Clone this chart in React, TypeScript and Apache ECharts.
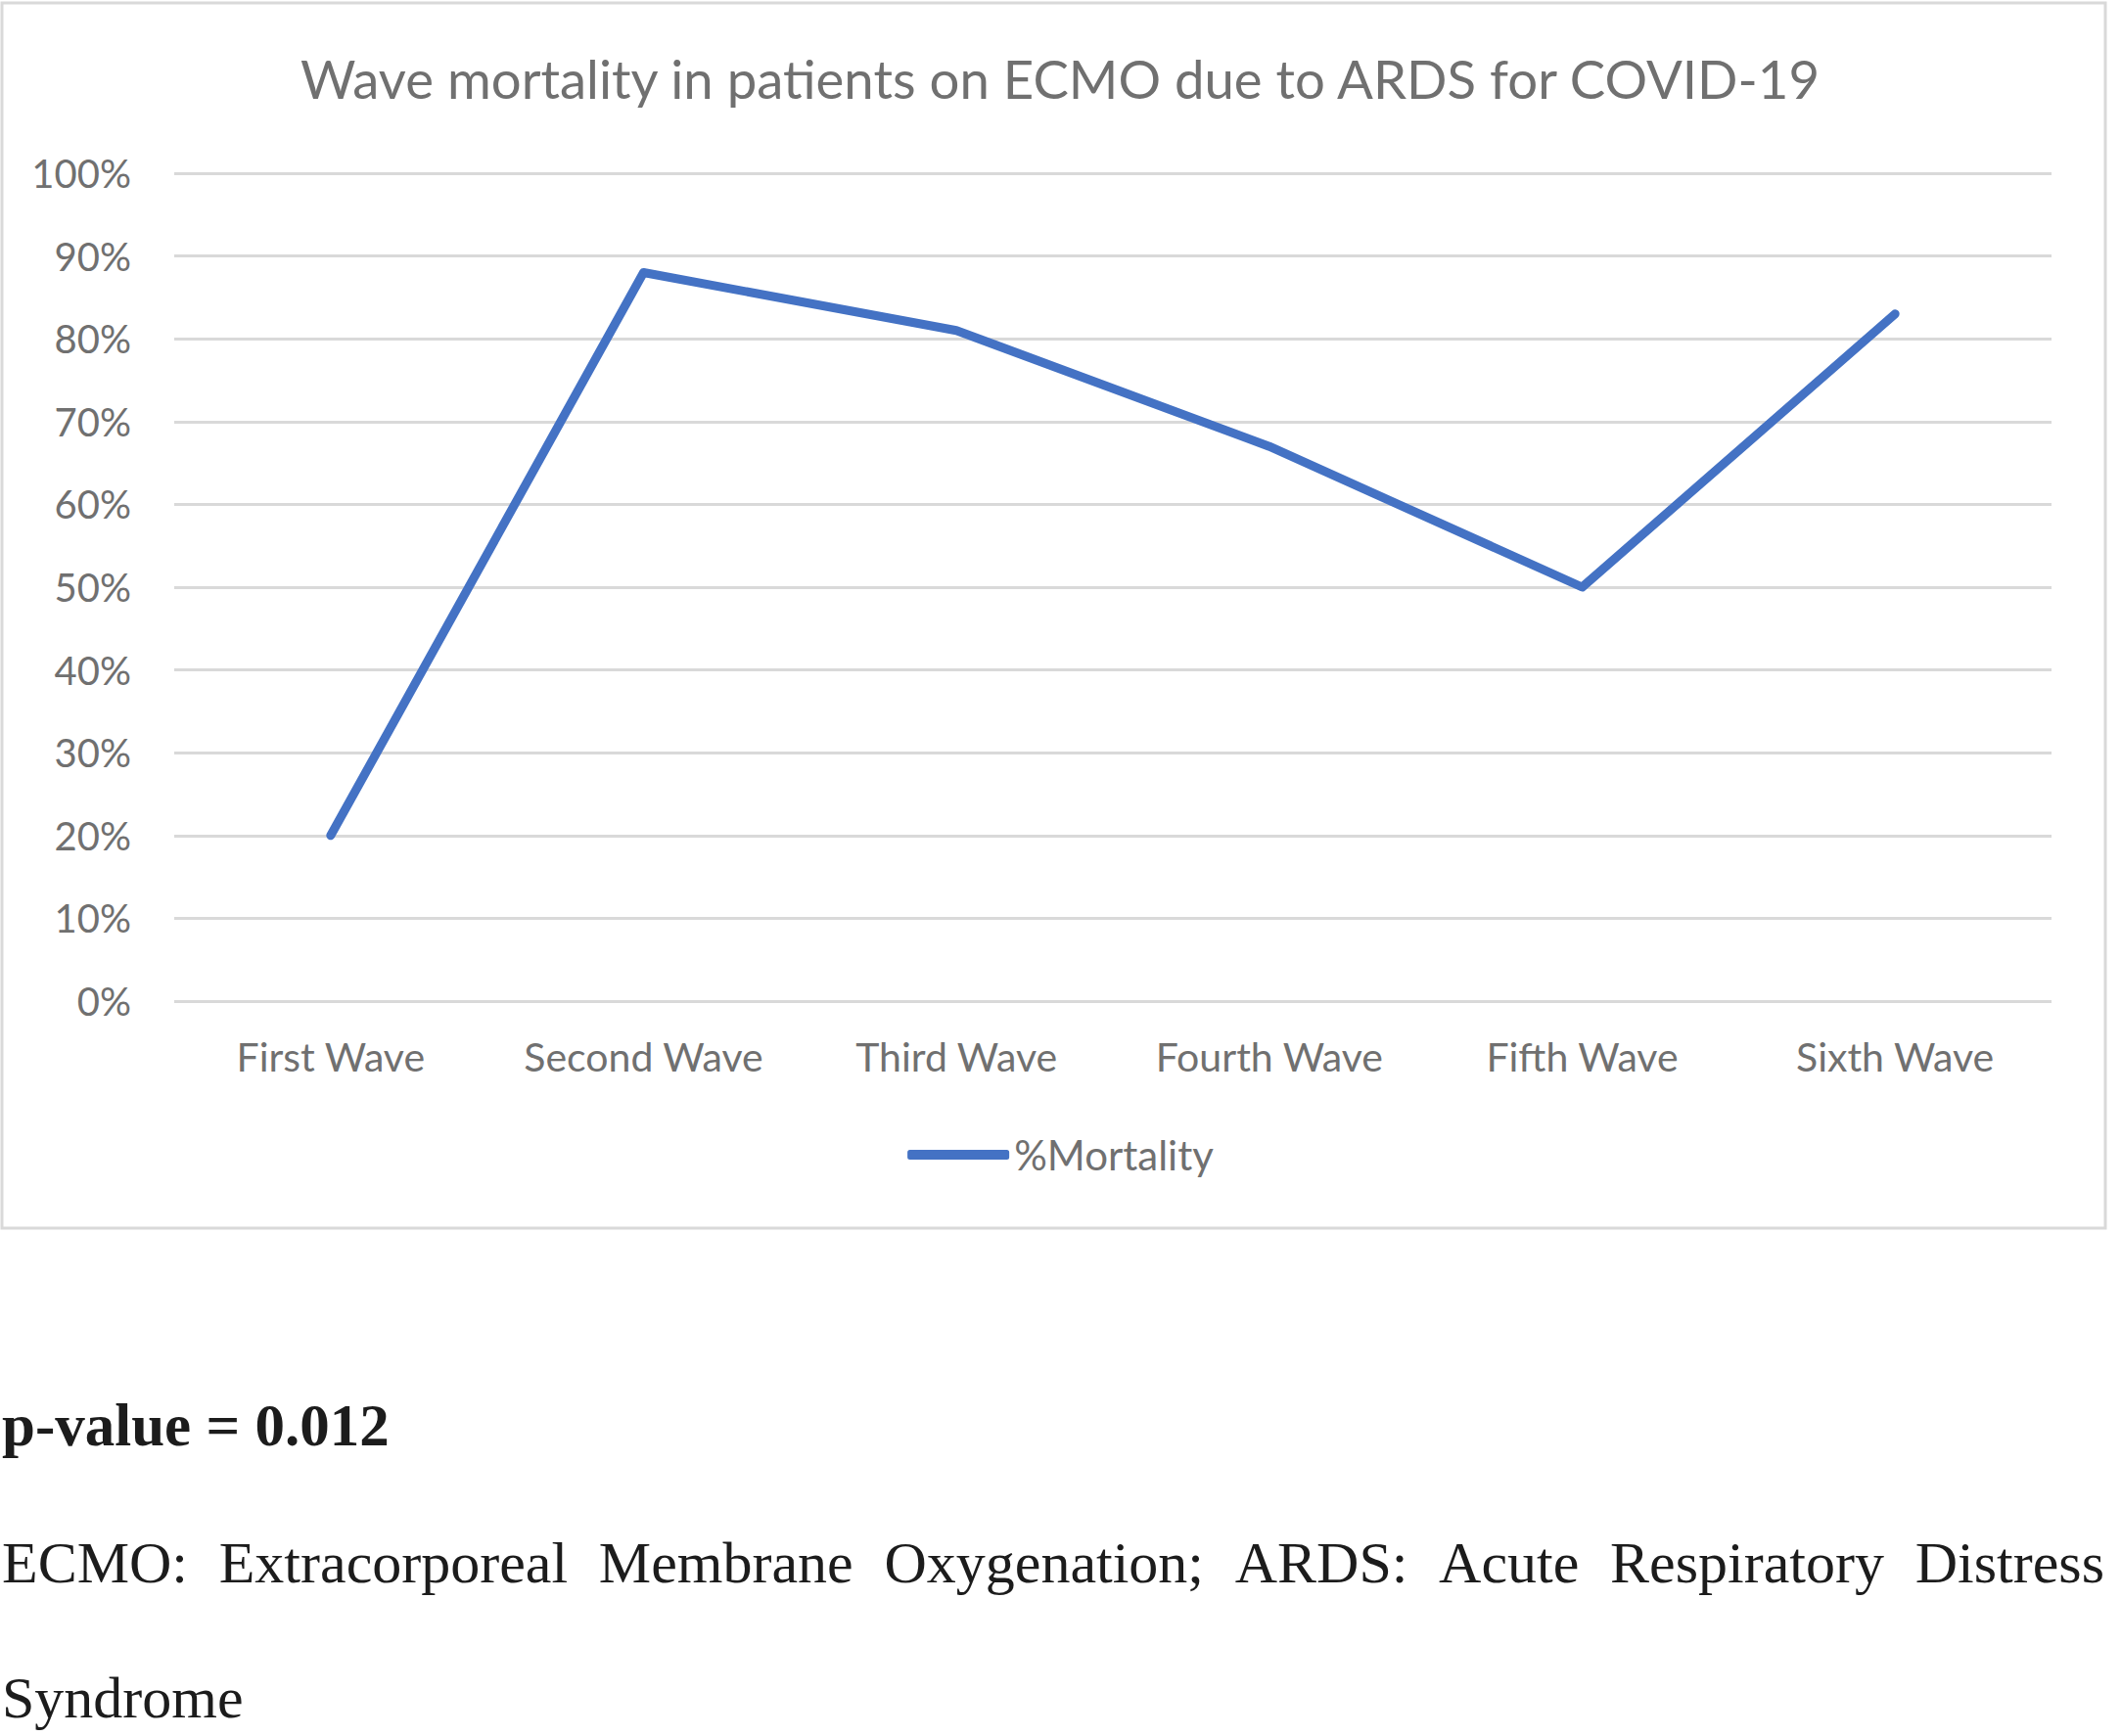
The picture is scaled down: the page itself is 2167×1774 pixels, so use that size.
import React, { useEffect, useRef } from "react";
import * as echarts from "echarts";

// ---- data ----
const categories: string[] = [
  "First Wave",
  "Second Wave",
  "Third Wave",
  "Fourth Wave",
  "Fifth Wave",
  "Sixth Wave",
];
const mortality: number[] = [0.2, 0.88, 0.81, 0.67, 0.5, 0.83];
const seriesName = "%Mortality";
const yMin = 0;
const yMax = 1;
const yInterval = 0.1;
const titleText = "Wave mortality in patients on ECMO due to ARDS for COVID-19";
const pValueText = "p-value = 0.012";
const footnoteWords: string[] = [
  "ECMO:",
  "Extracorporeal",
  "Membrane",
  "Oxygenation;",
  "ARDS:",
  "Acute",
  "Respiratory",
  "Distress",
];
const footnoteLastLine = "Syndrome";

const W = 2167;
const H = 1774;
const SANS = "Lato, 'Open Sans', sans-serif";
const SERIF = "'Liberation Serif', 'DejaVu Serif', serif";
const GRAY = "#707070";
const GRID = "#d9d9d9";
const BLUE = "#4472c4";
const INK = "#1c1c1c";

function measure(text: string, font: string): number {
  const c = document.createElement("canvas");
  const ctx = c.getContext("2d");
  if (!ctx) return text.length * 25;
  ctx.font = font;
  return ctx.measureText(text).width;
}

export default function App() {
  const ref = useRef<HTMLDivElement>(null);

  useEffect(() => {
    if (!ref.current) return;
    const chart = echarts.init(ref.current, undefined, { renderer: "svg" });

    // justified footnote line
    const fnSize = 60;
    const fnFont = `${fnSize}px 'Liberation Serif'`;
    const lineLeft = 2;
    const lineRight = 2150;
    const widths = footnoteWords.map((w) => measure(w, fnFont));
    const total = widths.reduce((a, b) => a + b, 0);
    const gap = (lineRight - lineLeft - total) / (footnoteWords.length - 1);
    let cx = lineLeft;
    const wordEls: any[] = footnoteWords.map((w, i) => {
      const el = {
        type: "text",
        x: cx,
        y: 1597,
        style: {
          text: w,
          fontSize: fnSize,
          fontFamily: SERIF,
          fill: INK,
          align: "left",
          verticalAlign: "middle",
        },
      };
      cx += widths[i] + gap;
      return el;
    });

    chart.setOption({
      animation: false,
      backgroundColor: "#ffffff",
      title: {
        text: titleText,
        left: 1078,
        textAlign: "center",
        top: 47,
        textStyle: {
          fontFamily: SANS,
          fontSize: 54.5,
          fontWeight: "normal",
          color: GRAY,
        },
      },
      legend: {
        data: [{ name: seriesName, icon: "roundRect" }],
        left: "center",
        top: 1159,
        padding: 0,
        itemWidth: 104,
        itemHeight: 10,
        textStyle: { fontFamily: SANS, fontSize: 42, color: GRAY },
      },
      grid: {
        left: 178,
        right: 71,
        top: 177,
        bottom: H - 1023,
        containLabel: false,
      },
      xAxis: {
        type: "category",
        data: categories,
        boundaryGap: true,
        axisLine: { show: false },
        axisTick: { show: false },
        axisLabel: {
          margin: 36,
          fontFamily: SANS,
          fontSize: 41,
          color: GRAY,
          interval: 0,
        },
        splitLine: { show: false },
      },
      yAxis: {
        type: "value",
        min: yMin,
        max: yMax,
        interval: yInterval,
        axisLine: { show: false },
        axisTick: { show: false },
        axisLabel: {
          margin: 44,
          fontFamily: SANS,
          fontSize: 40,
          color: GRAY,
          formatter: (v: number) => `${Math.round(v * 100)}%`,
        },
        splitLine: { show: true, lineStyle: { color: GRID, width: 3 } },
      },
      series: [
        {
          name: seriesName,
          type: "line",
          data: mortality,
          showSymbol: false,
          symbol: "none",
          itemStyle: { color: BLUE },
          lineStyle: { color: BLUE, width: 9, cap: "round", join: "round" },
        },
      ],
      graphic: [
        {
          type: "rect",
          shape: { x: 2, y: 3, width: 2149, height: 1252 },
          style: { fill: "none", stroke: GRID, lineWidth: 3 },
          silent: true,
        },
        {
          type: "text",
          x: 2,
          y: 1456,
          style: {
            text: pValueText,
            fontSize: 61,
            fontWeight: "bold",
            fontFamily: SERIF,
            fill: INK,
            align: "left",
            verticalAlign: "middle",
          },
        },
        ...wordEls,
        {
          type: "text",
          x: 2,
          y: 1735,
          style: {
            text: footnoteLastLine,
            fontSize: fnSize,
            fontFamily: SERIF,
            fill: INK,
            align: "left",
            verticalAlign: "middle",
          },
        },
      ],
    });

    return () => chart.dispose();
  }, []);

  return (
    <div
      ref={ref}
      style={{ position: "absolute", left: 0, top: 0, width: W, height: H }}
    />
  );
}
